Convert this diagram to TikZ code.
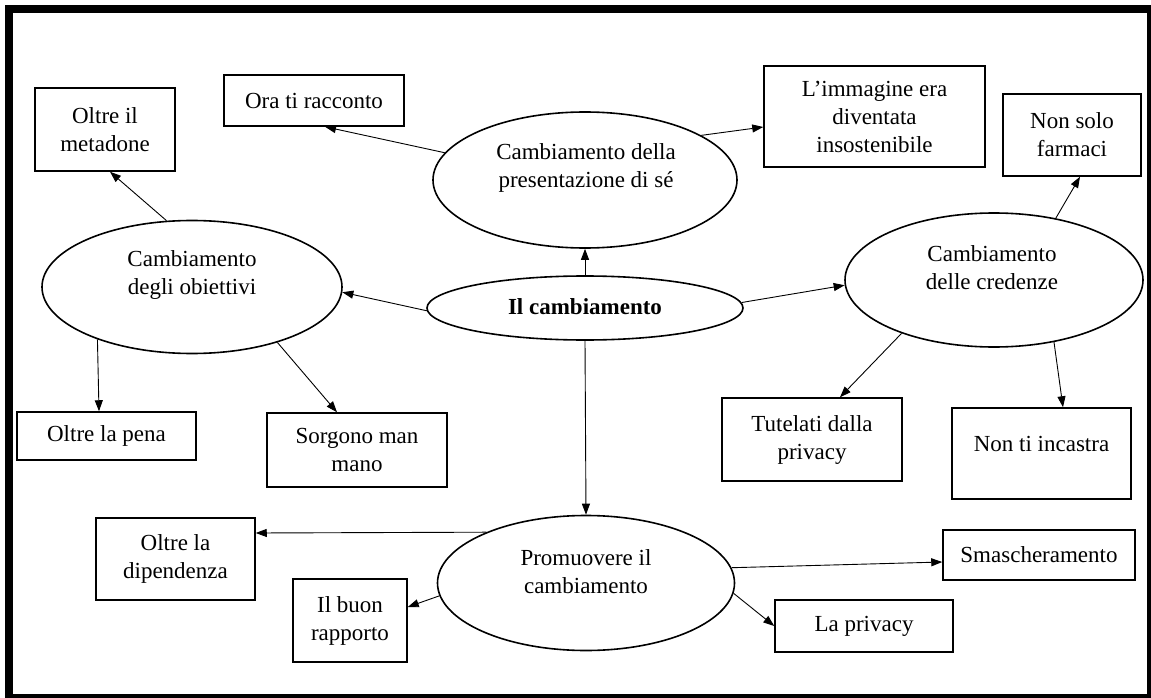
\documentclass[tikz,border=0pt]{standalone}
\usepackage{fontspec}
\setmainfont{Liberation Serif}
\usetikzlibrary{arrows.meta}
\tikzset{
  ell/.style={draw, ellipse, line width=1.6pt, inner sep=0pt},
  box/.style={draw, rectangle, line width=1.5pt, inner sep=0pt, align=center,
    font=\fontsize{23}{28}\selectfont},
  txt/.style={inner sep=0pt, align=center, font=\fontsize{23}{28}\selectfont},
  arr/.style={line width=0.9pt, -{Triangle[length=11pt,width=8pt]}}
}
\usetikzlibrary{shapes.geometric}
\begin{document}
\begin{tikzpicture}[x=1pt,y=-1pt]
\useasboundingbox (0,0) rectangle (1151,698);
% frame
\fill[black] (5,5) rectangle (1151,698);
\fill[white] (13,13) rectangle (1147,694);

% ellipses
\node[ell, minimum width=304pt, minimum height=136pt] (pres) at (585,180) {};
\node[txt] (prestxt) at (586,168) {Cambiamento della\\presentazione di sé};
\node[ell, minimum width=316pt, minimum height=64pt] (main) at (585,308) {};
\node[txt, font=\fontsize{23}{28}\selectfont\bfseries] (maintxt) at (585,307) {Il cambiamento};
\node[ell, minimum width=300pt, minimum height=133pt] (obj) at (192,287) {};
\node[txt] (objtxt) at (192,275) {Cambiamento\\degli obiettivi};
\node[ell, minimum width=298pt, minimum height=134pt] (cred) at (994,280) {};
\node[txt] (credtxt) at (992,268) {Cambiamento\\delle credenze};
\node[ell, minimum width=297pt, minimum height=135pt] (prom) at (586,583) {};
\node[txt] (promtxt) at (586,572) {Promuovere il\\cambiamento};

% boxes
\node[box, minimum width=140pt, minimum height=83pt] (metadone) at (105,129.5) {Oltre il\\metadone};
\node[box, minimum width=180pt, minimum height=51pt] (ora) at (314,100.5) {Ora ti racconto};
\node[box, minimum width=221pt, minimum height=101pt] (immagine) at (874.5,116.5) {L’immagine era\\diventata\\insostenibile};
\node[box, minimum width=138pt, minimum height=82pt] (farmaci) at (1072,135) {Non solo\\farmaci};
\node[box, minimum width=179pt, minimum height=48pt] (pena) at (106.5,436) {Oltre la pena};
\node[box, minimum width=180pt, minimum height=74pt] (sorgono) at (357,450) {Sorgono man\\mano};
\node[box, minimum width=180pt, minimum height=83pt] (tutelati) at (812,439.5) {Tutelati dalla\\privacy};
\node[box, minimum width=179pt, minimum height=91pt, text height=0pt] (incastra) at (1041.5,453.5) {};
\node[txt] (incastratxt) at (1041.5,444) {Non ti incastra};
\node[box, minimum width=159pt, minimum height=82pt] (dipendenza) at (175.5,559) {Oltre la\\dipendenza};
\node[box, minimum width=114pt, minimum height=83pt] (buon) at (350,620.5) {Il buon\\rapporto};
\node[box, minimum width=192pt, minimum height=50pt] (smasch) at (1039,555) {Smascheramento};
\node[box, minimum width=178pt, minimum height=52pt] (lapriv) at (864,626) {La privacy};

% connectors
\draw[arr] (main.north) -- (pres.south);
\draw[arr] (main.181.5) -- (obj.-2);
\draw[arr] (main.2) -- (cred.182);
\draw[arr] (main.south) -- (prom.north);

\draw[arr] (pres.169.6) -- ([xshift=11pt]ora.south);
\draw[arr] (pres.21.9) -- ([yshift=-10.5pt]immagine.west);

\draw[arr] (obj.111.9) -- ([xshift=5pt]metadone.south);
\draw[arr] (obj.209.7) -- ([xshift=-7.5pt]pena.north);
\draw[arr] (obj.-33.5) -- ([xshift=-20pt]sorgono.north);

\draw[arr] (cred.45) -- ([xshift=8pt]farmaci.south);
\draw[arr] (cred.210.3) -- ([xshift=28pt]tutelati.north);
\draw[arr] (cred.-46.8) -- ([xshift=21.5pt]incastra.north);

\draw[arr] (prom.153.4) -- ([yshift=26pt]dipendenza.east);
\draw[arr] (prom.185.8) -- ([yshift=13.5pt]buon.east);
\draw[arr] (prom.6.3) -- ([yshift=-7pt]smasch.west);
\draw[arr] (prom.-4.3) -- (lapriv.west);
\end{tikzpicture}
\end{document}
